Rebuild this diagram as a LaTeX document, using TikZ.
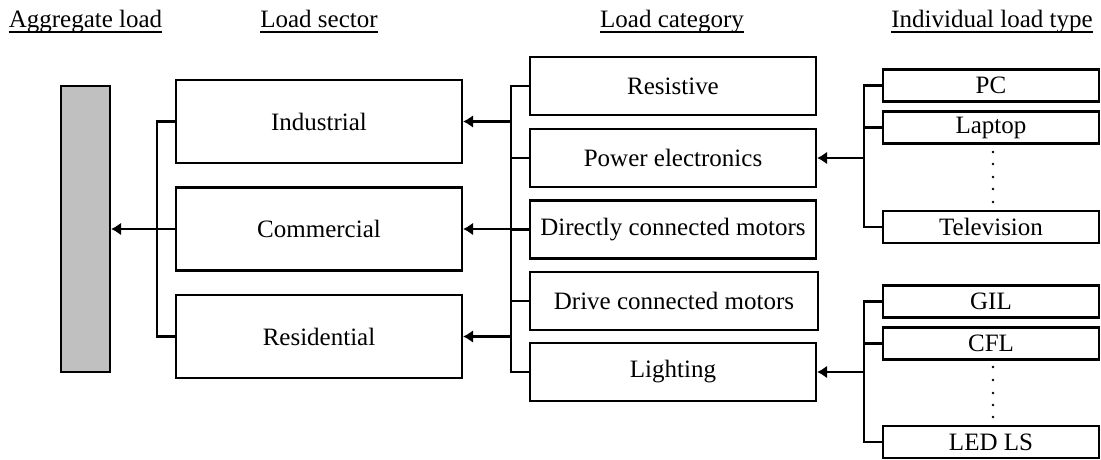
\documentclass[tikz,border=0pt]{standalone}
\usepackage{fontspec}
\setmainfont{Liberation Serif}
\usetikzlibrary{arrows.meta}
\definecolor{bargray}{RGB}{192,192,192}
\begin{document}
\begin{tikzpicture}[x=1pt,y=-1pt,
  every node/.style={font=\fontsize{25}{30}\selectfont},
  box/.style={draw,line width=2.2pt,rectangle,inner sep=0pt},
  sbox/.style={box,minimum width=286pt,minimum height=83pt},
  cbox/.style={box,minimum width=286pt,minimum height=58pt},
  ibox/.style={box,minimum width=216pt,minimum height=32pt},
  head/.style={inner sep=0pt,anchor=base},
  conn/.style={line width=2.2pt},
  arr/.style={conn,-{Latex[length=10pt,width=13pt]}},
  uline/.style={line width=1.2pt},
  dot/.style={fill,circle,inner sep=0pt,minimum size=2.6pt}]
\useasboundingbox (0,0) rectangle (1101,460);
% headers
\node[head] (hA) at (85.5,28) {Aggregate load};
\node[head] (hS) at (319,28) {Load sector};
\node[head] (hC) at (672,28) {Load category};
\node[head] (hI) at (992,28) {Individual load type};
\foreach \h in {hA,hS,hC,hI}
  \draw[uline] ([yshift=-4pt]\h.base west) -- ([yshift=-4pt]\h.base east);
% aggregate bar
\node[box,fill=bargray,minimum width=49pt,minimum height=286pt] (bar) at (85.5,229) {};
% sectors
\node[sbox] (ind) at (319,121.5) {Industrial};
\node[sbox] (com) at (319,229) {Commercial};
\node[sbox] (res) at (319,336.5) {Residential};
% categories
\node[cbox] (rst) at (673,86) {Resistive};
\node[cbox] (pow) at (673,158) {Power electronics};
\node[cbox] (dir) at (673,229.5) {Directly connected motors};
\node[cbox,minimum width=288pt] (drv) at (674,301) {Drive connected motors};
\node[cbox] (lig) at (673,372) {Lighting};
% individual
\node[ibox] (pc) at (991,85.5) {PC};
\node[ibox] (lap) at (991,127.5) {Laptop};
\node[ibox] (tv) at (991,227) {Television};
\node[ibox] (gil) at (991,301.5) {GIL};
\node[ibox] (cfl) at (991,343.5) {CFL};
\node[ibox] (led) at (991,442) {LED LS};
% dots
\foreach \y [count=\i] in {152,164,177,189,202}
  \node[dot] (da\i) at (993,\y) {};
\foreach \y [count=\i] in {367,380,393,405,417}
  \node[dot] (db\i) at (993,\y) {};
% sector bus
\coordinate (sb) at (157,229);
\draw[conn] (ind.west) -| (sb) |- (res.west);
\draw[arr] (com.west) -- (bar.east);
% category bus
\coordinate (cb) at (511,229);
\draw[conn] (rst.west) -| (cb) |- (lig.west);
\draw[conn] (pow.west) -- (pow.west -| cb);
\draw[conn] (dir.west) -- (dir.west -| cb);
\draw[conn] (drv.west) -- (drv.west -| cb);
\draw[arr] (ind.east -| cb) -- (ind.east);
\draw[arr] (com.east -| cb) -- (com.east);
\draw[arr] (res.east -| cb) -- (res.east);
% individual buses
\coordinate (ib1) at (864,158);
\draw[conn] (pc.west) -| (ib1) |- (tv.west);
\draw[conn] (lap.west) -- (lap.west -| ib1);
\draw[arr] (ib1) -- (pow.east);
\coordinate (ib2) at (864,372);
\draw[conn] (gil.west) -| (ib2) |- (led.west);
\draw[conn] (cfl.west) -- (cfl.west -| ib2);
\draw[arr] (ib2) -- (lig.east);
\end{tikzpicture}
\end{document}
